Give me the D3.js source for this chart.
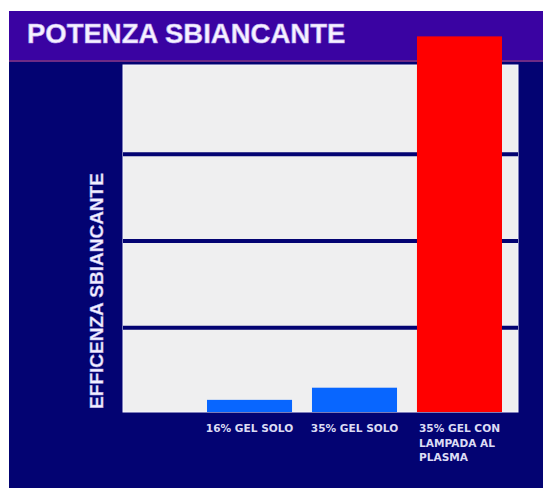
<!DOCTYPE html>
<html>
<head>
<meta charset="utf-8">
<script src="https://d3js.org/d3.v7.min.js"></script>
<style>
  body { margin: 0; background: #ffffff; }
  svg { display: block; }
</style>
</head>
<body>
<div id="chart"></div>
<script>
// data
const categories = ["16% GEL SOLO", "35% GEL SOLO", "35% GEL CON LAMPADA AL PLASMA"];
const labelLines = [["16% GEL SOLO"], ["35% GEL SOLO"], ["35% GEL CON", "LAMPADA AL", "PLASMA"]];
const values = [0.14, 0.28, 4.33];
const barColors = ["#0866ff", "#0866ff", "#ff0000"];
const yTicks = [1, 2, 3];
const title = "POTENZA SBIANCANTE";
const yTitle = "EFFICENZA SBIANCANTE";

const width = 543, height = 488;
const plot = { left: 123, right: 518, top: 65, bottom: 412 };

const svg = d3.select("#chart").append("svg")
    .attr("width", width)
    .attr("height", height);

// background
svg.append("rect").attr("x", 9).attr("y", 11)
    .attr("width", width - 9).attr("height", height - 11)
    .attr("fill", "#030372");

// title band
svg.append("rect").attr("x", 9).attr("y", 11)
    .attr("width", width - 9).attr("height", 50)
    .attr("fill", "#3a03a2");
svg.append("rect").attr("x", 9).attr("y", 60)
    .attr("width", width - 9).attr("height", 2)
    .attr("fill", "#6e2a86");

svg.append("text")
    .attr("x", 27).attr("y", 43)
    .attr("font-family", "Liberation Sans, Arial, sans-serif")
    .attr("font-weight", "bold")
    .attr("font-size", "27.5px")
    .attr("fill", "#f6f2ff")
    .attr("stroke", "#b9a6ee")
    .attr("stroke-width", 0.6)
    .text(title);

// scales
const x = d3.scaleBand()
    .domain(categories)
    .range([196.5, 512.5])
    .paddingInner(0.19)
    .paddingOuter(0.1);

const y = d3.scaleLinear()
    .domain([0, 4])
    .range([plot.bottom, plot.top]);

// plot area
svg.append("rect")
    .attr("x", plot.left).attr("y", plot.top)
    .attr("width", plot.right - plot.left).attr("height", plot.bottom - plot.top)
    .attr("fill", "#efeff0")
    .attr("stroke", "#f7f7ff")
    .attr("stroke-width", 1);

// gridlines (drawn as bands just below each tick)
svg.append("g").selectAll("rect")
    .data(yTicks)
    .join("rect")
    .attr("x", plot.left).attr("width", plot.right - plot.left)
    .attr("y", d => y(d) + 0.5).attr("height", 4)
    .attr("fill", "#030372");

// bars
svg.append("g").selectAll("rect")
    .data(values)
    .join("rect")
    .attr("x", (d, i) => x(categories[i]))
    .attr("y", d => y(d))
    .attr("width", x.bandwidth())
    .attr("height", d => y(0) - y(d))
    .attr("fill", (d, i) => barColors[i]);

// category labels: block centred under the bar, lines left-aligned
const labelGroup = svg.append("g")
    .attr("font-family", "DejaVu Sans, Verdana, sans-serif")
    .attr("font-weight", "bold")
    .attr("font-size", "10.6px")
    .attr("fill", "#dcdcf4");

labelLines.forEach((lines, i) => {
    const t = labelGroup.append("text");
    lines.forEach((line, j) => {
        t.append("tspan")
            .attr("x", 0)
            .attr("y", 432 + j * 14.5)
            .text(line);
    });
    const w = t.node().getBBox().width;
    const cx = x(categories[i]) + x.bandwidth() / 2;
    t.attr("transform", `translate(${cx - w / 2},0)`);
});

// y axis title
svg.append("text")
    .attr("transform", "translate(103,291) rotate(-90)")
    .attr("text-anchor", "middle")
    .attr("font-family", "Liberation Sans, Arial, sans-serif")
    .attr("font-weight", "bold")
    .attr("font-size", "19px")
    .attr("fill", "#f2f0ff")
    .attr("stroke", "#a9a0e0")
    .attr("stroke-width", 0.4)
    .text(yTitle);
</script>
</body>
</html>
